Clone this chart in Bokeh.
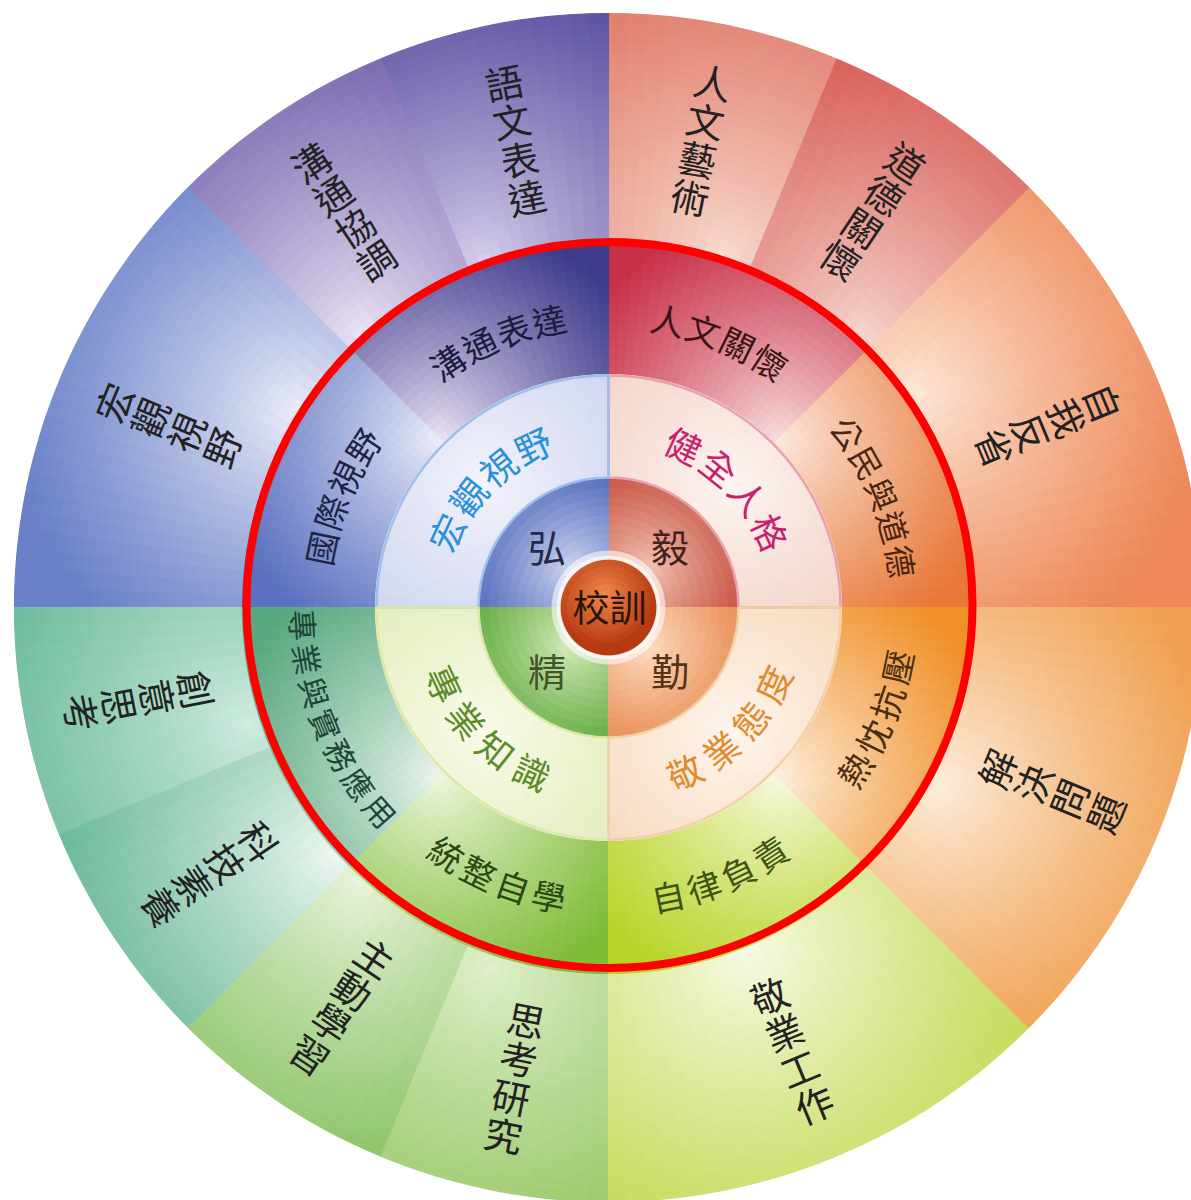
import numpy as np
from bokeh.plotting import figure
from bokeh.models import ColumnDataSource
from bokeh.embed import file_html
from bokeh.resources import INLINE
from bokeh.core.properties import value

FONT = "Noto Sans CJK TC"

# ---------------- data ----------------
outer_labels = ["自我反省", "道德關懷", "人文藝術", "語文表達", "溝通協調", "宏觀視野",
                "創意思考", "科技素養", "主動學習", "思考研究", "敬業工作", "解決問題"]
outer_start = [0, 45, 67.5, 90, 112.5, 135, 180, 202.5, 225, 247.5, 270, 315]
outer_end = [45, 67.5, 90, 112.5, 135, 180, 202.5, 225, 247.5, 270, 315, 360]

ring3_labels = ["公民與道德", "人文關懷", "溝通表達", "國際視野",
                "專業與實務應用", "統整自學", "自律負責", "熱忱抗壓"]
ring3_start = [0, 45, 90, 135, 180, 225, 270, 315]
ring3_end = [45, 90, 135, 180, 225, 270, 315, 360]

ring2_labels = ["健全人格", "宏觀視野", "專業知識", "敬業態度"]
ring2_start = [0, 90, 180, 270]
ring2_end = [90, 180, 270, 360]

ring1_labels = ["毅", "弘", "精", "勤"]
ring1_start = [0, 90, 180, 270]
ring1_end = [90, 180, 270, 360]

center_label = "校訓"

# ---------------- styles ----------------
R0, R1, R2, R3, R4 = 48, 129, 233, 366, 594

outer_base = ["#ee8a5a", "#d8605a", "#e07a6a", "#5a50a0", "#7a68b0", "#6a80c8",
              "#68b898", "#6ab898", "#8cc468", "#98c868", "#c8dc60", "#f0a050"]
outer_light = ["#fde8d8", "#f6d8d0", "#f8dcd0", "#d8d0ec", "#ece4f4", "#eceef8",
               "#d0ece0", "#eef8f2", "#eaf4dc", "#e0f0cc", "#f8fbe8", "#fdeedd"]
outer_hl = [(35, 375), (47, 370), (72, 370), (110, 370), (132, 370), (148, 370),
            (198, 380), (222, 370), (228, 370), (252, 380), (292, 370), (332, 375)]

ring3_base = ["#e87838", "#c83048", "#3e3a8c", "#5a70c0",
              "#58a880", "#80bc38", "#b8d428", "#f09028"]
ring3_light = ["#fcebe0", "#f8e0e0", "#ece4f4", "#eef0fa",
               "#eef6f0", "#f0f8e0", "#f8fae0", "#fdf0e0"]
ring3_hl = [(45, 240), (45, 240), (135, 240), (135, 240),
            (225, 240), (225, 240), (315, 240), (315, 240)]
ring3_text = ["#4a2414", "#3a1414", "#1c1c3c", "#1e2444",
              "#1e4638", "#2c4814", "#3e5416", "#4a2e12"]

ring2_base = ["#f4d6cc", "#d2d8f0", "#e4eec0", "#f8dcc2"]
ring2_light = ["#fdf6f2", "#f4f4fc", "#fafcec", "#fff6ee"]
ring2_edge = ["#e8a0ac", "#9cc0ea", "#dce8a8", "#f2d0a8"]
ring2_text = ["#c8206c", "#2a90d8", "#5a8c28", "#e08a30"]

ring1_base = ["#c44c3c", "#4c64b8", "#5ca838", "#e8884c"]
ring1_light = ["#f4c8b8", "#d0d8f0", "#d8ecc0", "#fde0c8"]
ring1_text = ["#45201a", "#26284a", "#44542a", "#553418"]


def hex2rgb(h):
    h = h.lstrip("#")
    return np.array([int(h[i:i + 2], 16) for i in (0, 2, 4)], float)


cells = dict(r0=[], r1=[], a0=[], a1=[], color=[])


def shade(a0, a1, r0, r1, base, light, hl, D, da, dr, g=0.85):
    na = max(1, int(np.ceil((a1 - a0) / da)))
    nr = max(1, int(np.ceil((r1 - r0) / dr)))
    A = np.linspace(a0, a1, na + 1)
    R = np.linspace(r0, r1, nr + 1)
    b = hex2rgb(base)
    l = hex2rgb(light)
    hx = hl[1] * np.cos(np.radians(hl[0]))
    hy = hl[1] * np.sin(np.radians(hl[0]))
    for i in range(na):
        am = np.radians((A[i] + A[i + 1]) / 2)
        for j in range(nr):
            rm = (R[j] + R[j + 1]) / 2
            d = np.hypot(rm * np.cos(am) - hx, rm * np.sin(am) - hy)
            s = min(1.0, d / D) ** g
            c = l + (b - l) * s
            cells["a0"].append(np.radians(A[i]))
            cells["a1"].append(np.radians(A[i + 1]))
            cells["r0"].append(R[j])
            cells["r1"].append(R[j + 1])
            cells["color"].append("#%02x%02x%02x" % tuple(int(round(v)) for v in c))


for k in range(len(outer_labels)):
    shade(outer_start[k], outer_end[k], R3, R4, outer_base[k], outer_light[k],
          outer_hl[k], 280, 1.875, 9.5)
for k in range(len(ring3_labels)):
    shade(ring3_start[k], ring3_end[k], R2, R3, ring3_base[k], ring3_light[k],
          ring3_hl[k], 225, 1.875, 9)
for k in range(len(ring2_labels)):
    shade(ring2_start[k], ring2_end[k], R1, R2, ring2_base[k], ring2_light[k],
          ((ring2_start[k] + ring2_end[k]) / 2, 175), 160, 3, 11)
for k in range(len(ring1_labels)):
    shade(ring1_start[k], ring1_end[k], R0, R1, ring1_base[k], ring1_light[k],
          ((ring1_start[k] + ring1_end[k]) / 2, 55), 110, 3, 9)
shade(0, 360, 0, R0, "#b63a12", "#f28a4a", (110, 14), 52, 5, 6, g=1.0)

p = figure(width=1191, height=1200, x_range=(-608, 583), y_range=(-593, 607),
           output_backend="svg", toolbar_location=None, min_border=0,
           x_axis_location=None, y_axis_location=None)
p.grid.visible = False
p.outline_line_color = None
p.background_fill_color = "white"
p.border_fill_color = "white"

src = ColumnDataSource(cells)
p.annular_wedge(x=0, y=0, inner_radius="r0", outer_radius="r1",
                start_angle="a0", end_angle="a1",
                fill_color="color", line_color="color", line_width=1.2, source=src)

# ring-2 outlines
p.annular_wedge(x=0, y=0, inner_radius=R1 + 1, outer_radius=R2 - 1,
                start_angle=list(np.radians(ring2_start)),
                end_angle=list(np.radians(ring2_end)),
                fill_color=None, line_color=ring2_edge, line_width=2.5)

# glow around the centre ball
p.annulus(x=0, y=0, inner_radius=R0, outer_radius=R0 + 9, fill_color="white",
          fill_alpha=0.55, line_color=None)
p.annulus(x=0, y=0, inner_radius=R0, outer_radius=R0 + 4, fill_color="white",
          fill_alpha=0.65, line_color=None)

# red ring
p.circle(x=[1], y=[2.5], radius=363, fill_color=None, line_color="#ff0000",
         line_width=8)

# ---------------- texts ----------------
txt = dict(x=[], y=[], t=[], ang=[], col=[], size=[])


def put(x, y, t, ang, col, size):
    txt["x"].append(x)
    txt["y"].append(y)
    txt["t"].append(t)
    txt["ang"].append(np.radians(ang))
    txt["col"].append(col)
    txt["size"].append(size)


def radial_label(label, mid, rc, pitch, size, color):
    n = len(label)
    upper = 0 < mid < 180
    th = np.radians(mid)
    for k, ch in enumerate(label):
        off = ((n - 1) / 2 - k) * pitch
        r = rc + off if upper else rc - off
        rot = mid - 90 if upper else mid + 90
        put(r * np.cos(th), r * np.sin(th), ch, rot, color, size)


def arc_label(label, mid, rc, pitch, size, color):
    n = len(label)
    upper = 0 < mid < 180
    for k, ch in enumerate(label):
        off = np.degrees(((n - 1) / 2 - k) * pitch / rc)
        th = mid + off if upper else mid - off
        rot = th - 90 if upper else th + 90
        put(rc * np.cos(np.radians(th)), rc * np.sin(np.radians(th)), ch, rot, color, size)


for k, lab in enumerate(outer_labels):
    mid = (outer_start[k] + outer_end[k]) / 2
    radial_label(lab, mid, 478, 39, "38px", "#222222")

for k, lab in enumerate(ring3_labels):
    mid = (ring3_start[k] + ring3_end[k]) / 2
    if len(lab) >= 7:
        arc_label(lab, mid, 305, 34, "31px", ring3_text[k])
    elif len(lab) == 5:
        arc_label(lab, mid, 297, 35, "32px", ring3_text[k])
    else:
        arc_label(lab, mid, 294, 37, "34px", ring3_text[k])

for k, lab in enumerate(ring2_labels):
    mid = (ring2_start[k] + ring2_end[k]) / 2
    arc_label(lab, mid, 180, 42, "36px", ring2_text[k])

for k, lab in enumerate(ring1_labels):
    mid = np.radians((ring1_start[k] + ring1_end[k]) / 2)
    put(87 * np.cos(mid), 87 * np.sin(mid), lab, 0, ring1_text[k], "38px")

put(1, 2, center_label, 0, "#2a1408", "37px")

tsrc = ColumnDataSource(txt)
p.text(x="x", y="y", text="t", angle="ang", text_color="col",
       text_font_size="size", text_font=value(FONT), text_align="center",
       text_baseline="middle", source=tsrc)

open("out.html", "w").write(file_html(p, INLINE))
